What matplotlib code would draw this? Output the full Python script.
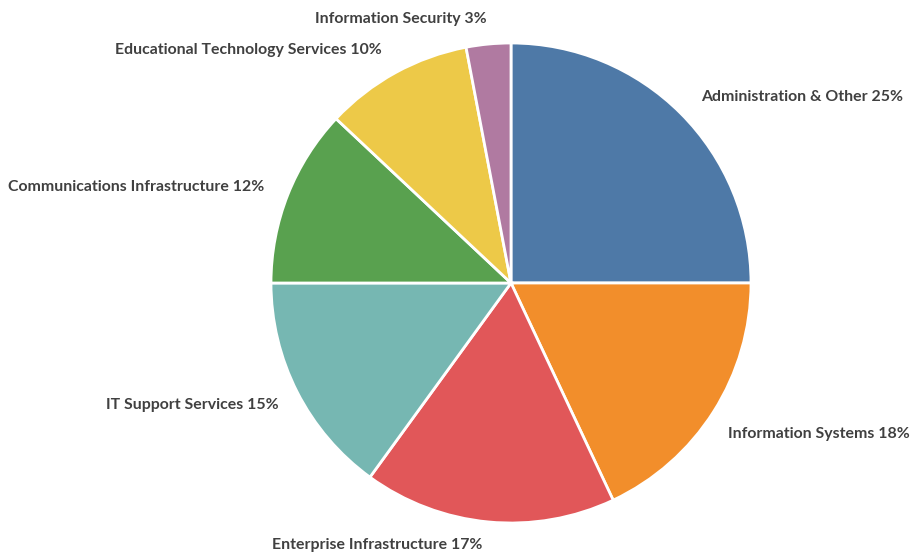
import matplotlib
matplotlib.use("Agg")
import matplotlib.pyplot as plt

categories = ["Administration & Other", "Information Systems", "Enterprise Infrastructure",
              "IT Support Services", "Communications Infrastructure",
              "Educational Technology Services", "Information Security"]
shares = [25, 18, 17, 15, 12, 10, 3]
colors = ["#4E79A7", "#F28E2B", "#E15759", "#76B7B2", "#59A14F", "#EDC948", "#B07AA1"]

# label centres in data units (pie radius = 1)
label_pos = [(1.2125, 0.775), (1.281, -0.629), (-0.556, -1.092), (-1.327, -0.508),
             (-1.560, 0.40), (-1.096, 0.971), (-0.458, 1.10)]

W, H = 913, 554
cx, cy, r = 511, 283, 240
fig = plt.figure(figsize=(W / 100, H / 100), dpi=100)
ax = fig.add_axes([(cx - r) / W, (H - cy - r) / H, 2 * r / W, 2 * r / H])

ax.pie(shares, colors=colors, startangle=90, counterclock=False, radius=1,
       wedgeprops=dict(edgecolor="white", linewidth=2))
ax.set_xlim(-1, 1)
ax.set_ylim(-1, 1)
ax.set_aspect("equal")
ax.axis("off")

for name, v, (x, y) in zip(categories, shares, label_pos):
    ax.text(x, y, f"{name} {v}%", ha="center", va="center", fontsize=11.4,
            fontweight="bold", family=["Lato", "DejaVu Sans"], color="#404040",
            clip_on=False)

fig.savefig("out.png", dpi=100)
